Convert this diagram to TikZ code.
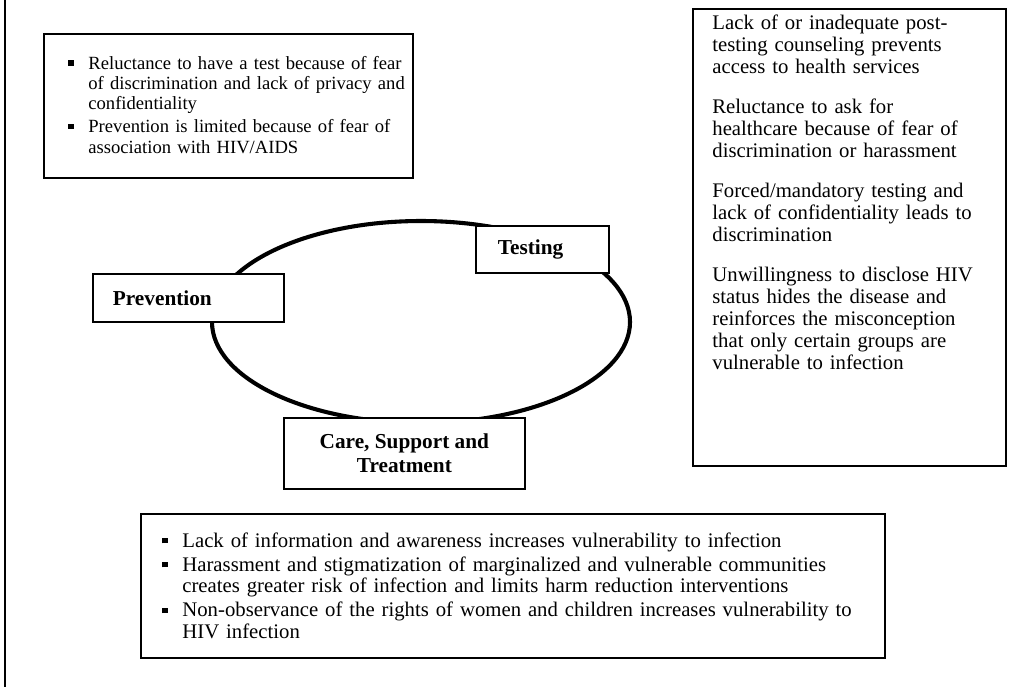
\documentclass[tikz,border=0pt]{standalone}
\usepackage{fontspec}
\setmainfont{Liberation Serif}
\usepackage{tikz}
\newcommand{\sqbullet}{\rule[2.2pt]{3pt}{3pt}}
\newenvironment{barrierlist}{%
  \begin{list}{\sqbullet}{\setlength{\leftmargin}{11.3pt}%
    \setlength{\labelwidth}{3pt}\setlength{\labelsep}{8.3pt}%
    \setlength{\itemsep}{1.5pt}\setlength{\parsep}{0pt}%
    \setlength{\topsep}{0pt}\setlength{\partopsep}{0pt}}}%
  {\end{list}}
\tikzset{
  notebox/.style={draw, line width=1pt, fill=white, inner sep=0pt,
                  anchor=north west},
  notetext/.style={inner sep=0pt, align=left,
                   font=\fontsize{11.7}{12.1}\selectfont},
  stagebox/.style={draw, line width=1pt, fill=white, anchor=north west,
                   inner ysep=0pt, font=\bfseries\fontsize{12}{13.8}\selectfont}
}
\usetikzlibrary{positioning}

\begin{document}
\begin{tikzpicture}[
    x=0.564pt, y=-0.564pt,
    ring/.style={line width=2.3pt},
    frame/.style={line width=1.1pt}
]
\useasboundingbox (0,0) rectangle (1024,687);
\coordinate (frametop) at (5,0);
\coordinate (framebot) at (5,687);
\draw[frame] (frametop) -- (framebot);
\coordinate (ringc) at (421,322);
\draw[ring] (ringc) ellipse [x radius=209, y radius=101];
\node[notebox, minimum width=208.1pt, minimum height=81.2pt] (prevnotes) at (43,33) {};
\node[notetext, text width=250pt, font=\fontsize{10.5}{11.4}\selectfont,
      below right=9pt and 14.1pt of prevnotes.north west] (prevtext) {%
\begin{barrierlist}
\item Reluctance to have a test because of fear\\ of discrimination and lack of privacy and\\ confidentiality
\item Prevention is limited because of fear of\\ association with HIV/AIDS
\end{barrierlist}};
\node[notebox, minimum width=176.5pt, minimum height=257.7pt] (testnotes) at (692,8) {};
\node[notetext, text width=200pt, font=\fontsize{11.7}{12.4}\selectfont,
      below right=3.6pt and 11.3pt of testnotes.north west] (testtext) {%
Lack of or inadequate post-\\ testing counseling prevents\\ access to health services\\[10.2pt]
Reluctance to ask for\\ healthcare because of fear of\\ discrimination or harassment\\[10.2pt]
Forced/mandatory testing and\\ lack of confidentiality leads to\\ discrimination\\[10.2pt]
Unwillingness to disclose HIV\\ status hides the disease and\\ reinforces the misconception\\ that only certain groups are\\ vulnerable to infection};
\node[notebox, minimum width=419.6pt, minimum height=81.2pt] (carenotes) at (140,513) {};
\node[notetext, text width=430pt, below right=7pt and 12.4pt of carenotes.north west] (caretext) {%
\begin{barrierlist}
\item Lack of information and awareness increases vulnerability to infection
\item Harassment and stigmatization of marginalized and vulnerable communities\\ creates greater risk of infection and limits harm reduction interventions
\item Non-observance of the rights of women and children increases vulnerability to\\ HIV infection
\end{barrierlist}};
\node[stagebox, minimum width=107.7pt, minimum height=27.1pt, inner xsep=11.3pt,
      text width=85.1pt, align=left] (prevention) at (92,273) {Prevention};
\node[stagebox, minimum width=75pt, minimum height=26.5pt, inner xsep=12.4pt,
      text width=50.2pt, align=left] (testing) at (475,225) {Testing};
\node[stagebox, minimum width=135.9pt, minimum height=40pt, align=center] (care) at (283,417) {Care, Support and\\ Treatment};
\end{tikzpicture}
\end{document}
